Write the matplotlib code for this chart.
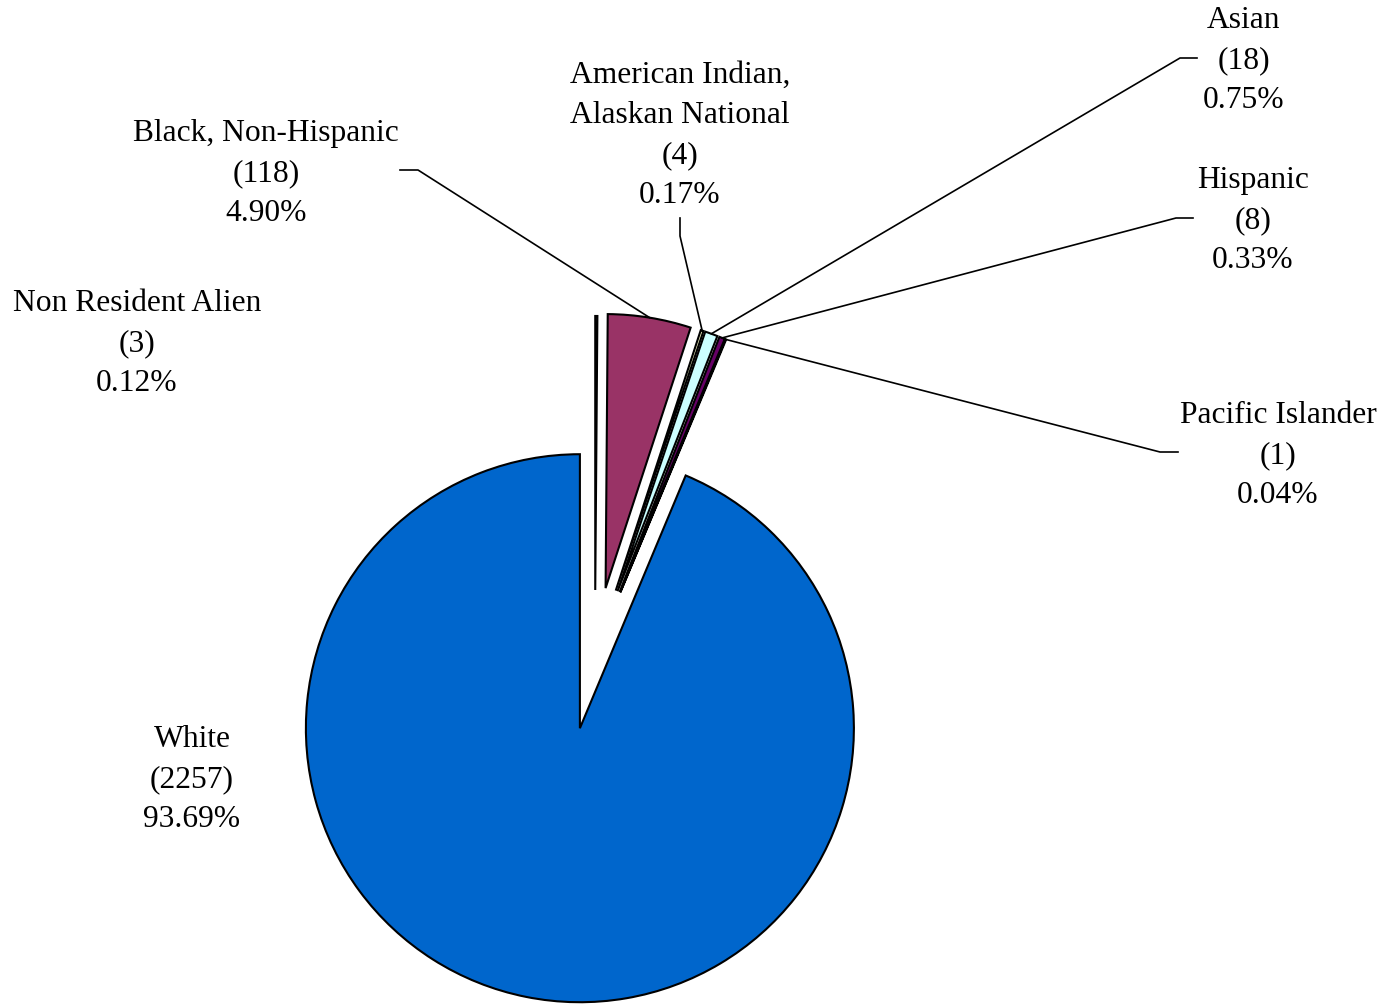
import numpy as np
import matplotlib
matplotlib.use("Agg")
from matplotlib import pyplot as plt

# slices, clockwise from 12 o'clock
groups = ["Non Resident Alien", "Black, Non-Hispanic", "American Indian,\nAlaskan National",
          "Asian", "Hispanic", "Pacific Islander", "White"]
counts = [3, 118, 4, 18, 8, 1, 2257]
pcts = ["0.12%", "4.90%", "0.17%", "0.75%", "0.33%", "0.04%", "93.69%"]
colors = ["#9999FF", "#993366", "#FFFFCC", "#CCFFFF", "#660066", "#FF8080", "#0066CC"]
explode = [0.23, 0.24, 0.24, 0.24, 0.24, 0.24, 0.28]

W, H = 1388, 1007
fig = plt.figure(figsize=(W / 100, H / 100), dpi=100)
ax = fig.add_axes([0, 0, 1, 1])

R = 274
cx, cy = 595, H - 653
# explode in matplotlib is in data units, so scale by radius
wedges, _ = ax.pie(counts, colors=colors, explode=[e * R for e in explode],
                   startangle=90, counterclock=False,
                   radius=R, center=(cx, cy),
                   wedgeprops=dict(edgecolor="black", linewidth=1.5))

ax.set_xlim(0, W)
ax.set_ylim(0, H)
ax.set_aspect("equal")
ax.axis("off")

font = dict(family="Liberation Serif", fontsize=22.7, ha="center", va="top", linespacing=1.5)

# label text position (top center) and leader path (ends at slice)
lab = {
    0: ((137, 289), None),
    1: ((266, 119), [(400, 170), (418, 170)]),
    2: ((680, 61), [(680, 218), (680, 236)]),
    3: ((1244, 6), [(1197, 58), (1180, 58)]),
    4: ((1253, 166), [(1193, 218), (1176, 218)]),
    5: ((1278, 401), [(1178, 452), (1160, 452)]),
    6: ((192, 725), None),
}

for i, w in enumerate(wedges):
    (tx, ty), path = lab[i]
    ax.text(tx, H - ty, "%s\n(%d)\n%s" % (groups[i], counts[i], pcts[i]), **font)
    if path is None:
        continue
    mid = np.radians((w.theta1 + w.theta2) / 2)
    px = w.center[0] + w.r * np.cos(mid)
    py = w.center[1] + w.r * np.sin(mid)
    xs = [p[0] for p in path] + [px]
    ys = [H - p[1] for p in path] + [py]
    ax.plot(xs, ys, color="black", lw=1.2)

fig.savefig("out.png", dpi=100, facecolor="white")
